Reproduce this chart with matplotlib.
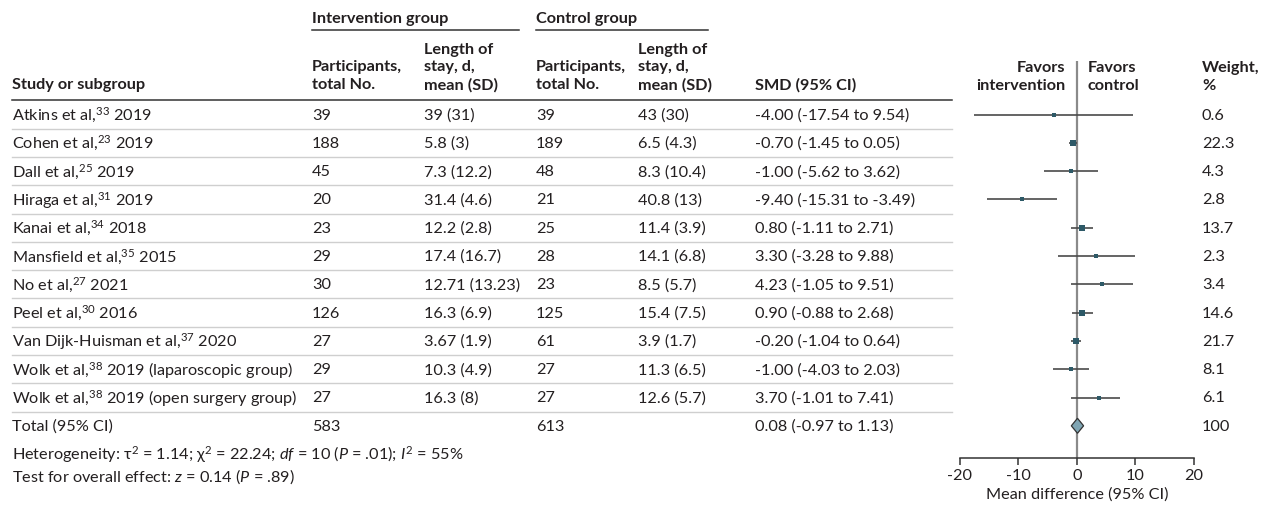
import matplotlib
matplotlib.use("Agg")
import matplotlib.pyplot as plt
from matplotlib.patches import Polygon
import numpy as np

plt.rcParams['font.family'] = ['Lato', 'DejaVu Sans']
plt.rcParams['mathtext.fontset'] = 'custom'
plt.rcParams['mathtext.rm'] = 'Lato'
plt.rcParams['mathtext.it'] = 'Lato:italic'
plt.rcParams['mathtext.bf'] = 'Lato:bold'
plt.rcParams['axes.unicode_minus'] = False

# ---- data ----
studies = ["Atkins et al,", "Cohen et al,", "Dall et al,", "Hiraga et al,", "Kanai et al,",
           "Mansfield et al,", "No et al,", "Peel et al,", "Van Dijk-Huisman et al,",
           "Wolk et al,", "Wolk et al,"]
refs = ["33", "23", "25", "31", "34", "35", "27", "30", "37", "38", "38"]
years = ["2019", "2019", "2019", "2019", "2018", "2015", "2021", "2016", "2020",
         "2019 (laparoscopic group)", "2019 (open surgery group)"]
int_n = [39, 188, 45, 20, 23, 29, 30, 126, 27, 29, 27]
int_los = ["39 (31)", "5.8 (3)", "7.3 (12.2)", "31.4 (4.6)", "12.2 (2.8)", "17.4 (16.7)",
           "12.71 (13.23)", "16.3 (6.9)", "3.67 (1.9)", "10.3 (4.9)", "16.3 (8)"]
ctl_n = [39, 189, 48, 21, 25, 28, 23, 125, 61, 27, 27]
ctl_los = ["43 (30)", "6.5 (4.3)", "8.3 (10.4)", "40.8 (13)", "11.4 (3.9)", "14.1 (6.8)",
           "8.5 (5.7)", "15.4 (7.5)", "3.9 (1.7)", "11.3 (6.5)", "12.6 (5.7)"]
smd = [-4.00, -0.70, -1.00, -9.40, 0.80, 3.30, 4.23, 0.90, -0.20, -1.00, 3.70]
ci_lo = [-17.54, -1.45, -5.62, -15.31, -1.11, -3.28, -1.05, -0.88, -1.04, -4.03, -1.01]
ci_hi = [9.54, 0.05, 3.62, -3.49, 2.71, 9.88, 9.51, 2.68, 0.64, 2.03, 7.41]
weight = [0.6, 22.3, 4.3, 2.8, 13.7, 2.3, 3.4, 14.6, 21.7, 8.1, 6.1]

total_int_n = 583
total_ctl_n = 613
total_smd, total_lo, total_hi = 0.08, -0.97, 1.13
total_weight = 100
heterogeneity = "Heterogeneity: τ$^2$ = 1.14; χ$^2$ = 22.24; $df$ = 10 ($P$ = .01); $I^2$ = 55%"
overall = "Test for overall effect: $z$ = 0.14 ($P$ = .89)"
xticks = [-20, -10, 0, 10, 20]

# ---- layout (pixels) ----
W, H = 1265, 506
ROW0, ROWH = 115.5, 28.3
COL = dict(study=12, in_n=312, in_los=424, ct_n=536, ct_los=638, smd=755, wt=1202)
TXT = '#231f20'
FS = 11.7

fig = plt.figure(figsize=(W / 100, H / 100), dpi=100)
tab = fig.add_axes([0, 0, 1, 1])
tab.set_xlim(0, W)
tab.set_ylim(H, 0)
tab.axis('off')

def row_y(i):
    return ROW0 + ROWH * i

# group headers
bold = dict(fontsize=FS, fontweight='bold', color=TXT, va='center')
tab.text(COL['in_n'], 19, "Intervention group", **bold)
tab.plot([COL['in_n'], 519], [31, 31], color='#333333', lw=1.1)
tab.text(COL['ct_n'], 19, "Control group", **bold)
tab.plot([COL['ct_n'], 708], [31, 31], color='#333333', lw=1.1)

# column headers
hl = [50, 67, 85]
tab.text(COL['study'], hl[2], "Study or subgroup", **bold)
for key in ('in_n', 'ct_n'):
    tab.text(COL[key], hl[1], "Participants,", **bold)
    tab.text(COL[key], hl[2], "total No.", **bold)
for key in ('in_los', 'ct_los'):
    tab.text(COL[key], hl[0], "Length of", **bold)
    tab.text(COL[key], hl[1], "stay, d,", **bold)
    tab.text(COL[key], hl[2], "mean (SD)", **bold)
tab.text(COL['smd'], hl[2], "SMD (95% CI)", **bold)
tab.text(1065, 68, "Favors", ha='right', **bold)
tab.text(1065, 86, "intervention", ha='right', **bold)
tab.text(1088, 68, "Favors", **bold)
tab.text(1088, 86, "control", **bold)
tab.text(COL['wt'], 68, "Weight,", **bold)
tab.text(COL['wt'], 86, "%", **bold)
tab.plot([COL['study'], 952], [101, 101], color='#333333', lw=1.1)

# study rows
norm = dict(fontsize=FS, color=TXT, va='center')
for i in range(len(studies)):
    y = row_y(i)
    tab.text(COL['study'], y, f"{studies[i]}$^{{{refs[i]}}}$ {years[i]}", **norm)
    tab.text(COL['in_n'], y, str(int_n[i]), **norm)
    tab.text(COL['in_los'], y, int_los[i], **norm)
    tab.text(COL['ct_n'], y, str(ctl_n[i]), **norm)
    tab.text(COL['ct_los'], y, ctl_los[i], **norm)
    tab.text(COL['smd'], y, f"{smd[i]:.2f} ({ci_lo[i]:.2f} to {ci_hi[i]:.2f})", **norm)
    tab.text(COL['wt'], y, f"{weight[i]}", **norm)
    sep = y + ROWH / 2
    tab.plot([COL['study'], 952], [sep, sep], color='#cfcfcf', lw=1.0)

# total row
n = len(studies)
yt = row_y(n)
tab.text(COL['study'], yt, "Total (95% CI)", **norm)
tab.text(COL['in_n'], yt, str(total_int_n), **norm)
tab.text(COL['ct_n'], yt, str(total_ctl_n), **norm)
tab.text(COL['smd'], yt, f"{total_smd:.2f} ({total_lo:.2f} to {total_hi:.2f})", **norm)
tab.text(COL['wt'], yt, str(total_weight), **norm)

tab.text(COL['study'], 455, heterogeneity, **norm)
tab.text(COL['study'], 477, overall, **norm)

# ---- forest plot ----
x0, x1, ytop, ybot = 960, 1194, 62, 459
ax = fig.add_axes([x0 / W, 1 - ybot / H, (x1 - x0) / W, (ybot - ytop) / H])
ax.set_facecolor('none')
ax.set_xlim(-20, 20)
ax.set_ylim((ybot - ROW0) / ROWH, (ytop - ROW0) / ROWH)
for s in ('top', 'left', 'right'):
    ax.spines[s].set_visible(False)
ax.spines['bottom'].set_color('#333333')
ax.spines['bottom'].set_linewidth(1.1)
ax.set_yticks([])
ax.set_xticks(xticks)
ax.tick_params(axis='x', direction='out', length=5, width=1.1, color='#333333',
               labelsize=FS, labelcolor=TXT, pad=2)
ax.set_xlabel("Mean difference (95% CI)", fontsize=FS, color=TXT, labelpad=3)
ax.axvline(0, color='#8a8a8a', lw=1.6, zorder=1)

rows = np.arange(n)
ax.hlines(rows, ci_lo, ci_hi, color='#4a4a4a', lw=1.2, zorder=2)
for i in range(n):
    side = 2.5 + 0.75 * np.sqrt(weight[i])
    ax.plot(smd[i], rows[i], marker='s', ms=side * 0.72, color='#2d5967',
            mec='#2d5967', mew=0, zorder=3)

h = 7.5 / ROWH
diamond = Polygon([[total_lo, n], [total_smd, n - h], [total_hi, n], [total_smd, n + h]],
                  closed=True, facecolor='#7fa5b3', edgecolor='#333333', lw=0.9, zorder=3)
ax.add_patch(diamond)

fig.savefig("out.png", dpi=100)
